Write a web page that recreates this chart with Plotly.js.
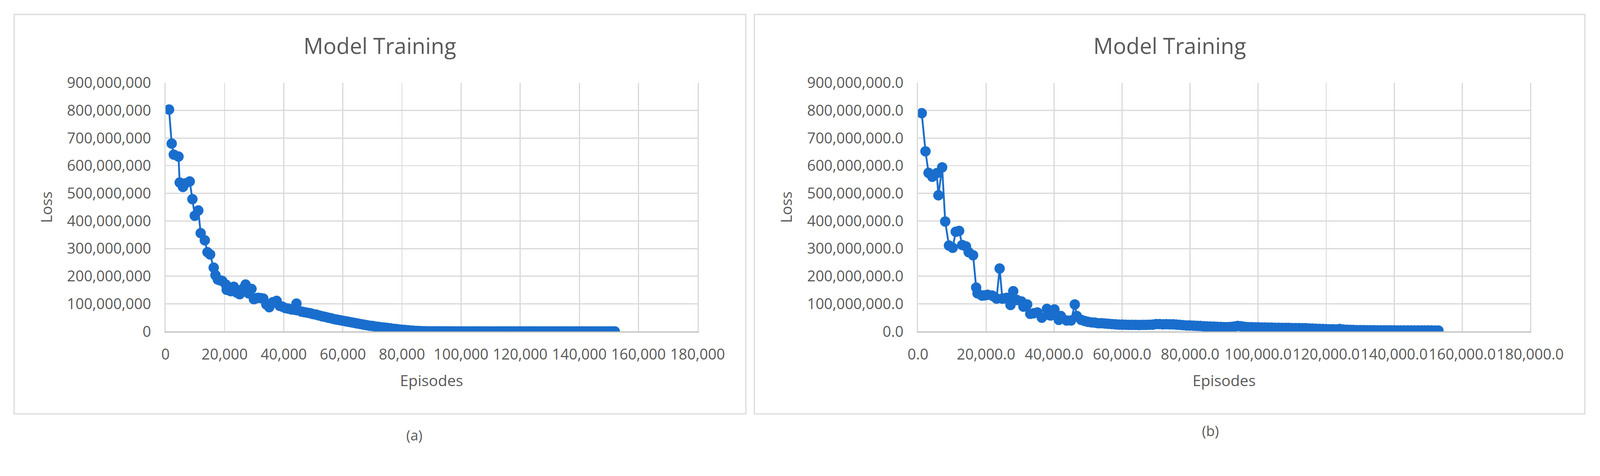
<!DOCTYPE html>
<html>
<head>
<meta charset="utf-8">
<script src="https://cdn.plot.ly/plotly-3.0.1.min.js"></script>
<style>html,body{margin:0;padding:0;background:#fff;overflow:hidden;}#chart{position:absolute;left:0;top:0;}</style>
</head>
<body>
<div id="chart"></div>
<script>
// Panel (a): episodes (thousands) and loss (millions)
const episodesA_k = [1.2,2.1,2.8,4.4,4.8,5.9,6.7,8.2,9.1,9.9,11.1,11.9,13.3,14.2,15.1,16.3,16.9,17.7,18.5,19.2,20.4,20.7,21.5,22.1,23.1,24.1,25.1,26.4,27.1,28.1,29.1,29.9,30.6,31.3,32.2,33.1,34.1,35.1,36.3,37.6,38.6,39.5,40.5,41.5,42.5,43.4,44.3,44.5,
46,47,48,49,50,51,52,53,54,55,56,57,58,59,60,61,62,63,64,65,66,67,68,69,70,71,72,73,74,75,76,77,78,79,80,81,82,83,84,85,86,87,88,89,90,
91,92,93,94,95,96,97,98,99,100,101,102,103,104,105,106,107,108,109,110,111,112,113,114,115,116,117,118,119,120,121,122,123,124,125,126,127,128,129,130,131,132,133,134,135,136,137,138,139,140,141,142,143,144,145,146,147,148,149,150,151,152];
const lossA_M = [803,680,640,633,539,523,536,543,479,419,438,356,330,287,279,231,204,188,185,183,170,151,150,146,162,141,135,157,170,138,154,117,120,122,121,119,98,88,106,111,93,90,85,83,80,79,101,77,
72,70,68,66,63,61,58,55,53,50,48,45,43,41,39,37,35,33,31,29,27,25,23,21,20,18,17,15,14,13,11.5,10,9,7.5,6.5,5.5,4.5,3.5,2.8,2.2,1.6,1.2,0.9,0.7,0.6,
0.6,0.5,0.5,0.5,0.5,0.5,0.4,0.4,0.4,0.4,0.4,0.4,0.4,0.4,0.3,0.3,0.3,0.3,0.3,0.3,0.3,0.3,0.3,0.3,0.3,0.3,0.3,0.3,0.3,0.3,0.2,0.2,0.2,0.2,0.2,0.2,0.2,0.2,0.2,0.2,0.2,0.2,0.2,0.2,0.2,0.2,0.2,0.2,0.2,0.2,0.2,0.2,0.2,0.2,0.2,0.2,0.2,0.2,0.2,0.2,0.2,0.2];

// Panel (b): episodes (thousands) and loss (millions)
const episodesB_k = [1.1,2.2,3.1,4.2,5.5,6.0,7.1,8.0,9.1,10.2,11.1,12.1,13.0,14.1,14.9,16.2,17.1,17.5,18.8,19.7,20.5,21.8,22.5,23.1,24.0,24.8,25.5,26.1,27.2,28.0,29.1,30.4,31.0,32.1,33.0,34.0,35.1,36.4,37.9,38.5,39.0,40.1,41.4,42.0,43.7,45.0,46.1,46.7,
48,49,50,51,52,53,54,55,56,57,58,59,60,61,62,63,64,65,66,67,68,69,70,71,72,73,74,75,76,77,78,79,80,81,82,83,84,85,86,87,88,89,90,
91,92,93,94,95,96,97,98,99,100,101,102,103,104,105,106,107,108,109,110,111,112,113,114,115,116,117,118,119,120,121,122,123,124,125,126,127,128,129,130,131,132,133,134,135,136,137,138,139,140,141,142,143,144,145,146,147,148,149,150,151,152,153];
const lossB_M = [790,652,574,560,573,493,594,398,311,303,361,364,313,308,287,276,159,138,130,131,133,130,125,119,228,119,120,122,96,146,114,109,90,98,64,66,69,50,82,60,58,80,42,56,40,40,98,56,
42,38,35,33,32,30,30,29,28,27,26,25,25,24.5,24,24,24,23.5,24,24,24.5,25,27,27,26,26.5,26,26,25,24,23,22,22,21,20.5,20,19,18.5,18,17.5,17,16.5,16,
16,16.5,18,20,19,17,16,15.5,15,15,14.5,14.5,14,14,13.5,13.5,13,13,13,12.5,12.5,12.5,12,12,11,10.5,10,9.5,9,8.5,8,8,7.5,9,7,6.5,6,5.5,5,5,4.8,4.6,4.5,4.4,4.3,4.3,4.2,4.2,4.1,4.1,4.0,4.0,4.0,3.9,3.9,3.8,3.8,3.8,3.7,3.7,3.7,3.6,3.6];

const titleText = "Model Training";
const xTitle = "Episodes";
const yTitle = "Loss";
const panelLabels = ["(a)", "(b)"];

// reference frame is 4312 x 1218; fit it to the actual viewport width
const REF_W = 4312, REF_H = 1218;
const W = (document.documentElement.clientWidth || window.innerWidth || REF_W);
const k = W / REF_W;
const H = Math.round(REF_H * k);
const px = v => v / REF_W;
const py = v => 1 - v / REF_H;
const s = v => v * k;

const blue = "#196ECD";
const grey = "#595959";
const FONT = "Open Sans, Noto Sans, sans-serif";

function trace(xk, yM, xa, ya) {
  return {
    type: "scatter", mode: "lines+markers",
    x: xk.map(v => v * 1000), y: yM.map(v => v * 1e6),
    xaxis: xa, yaxis: ya,
    line: {color: blue, width: s(5)},
    marker: {color: blue, size: s(28)},
    showlegend: false, hoverinfo: "x+y"
  };
}

function xax(domain, fmt, anchor) {
  return {
    domain: domain, anchor: anchor, range: [0, 180000], tick0: 0, dtick: 20000,
    tickformat: fmt, tickangle: 0,
    ticks: "outside", ticklen: s(24), tickcolor: "rgba(0,0,0,0)", tickwidth: 1,
    showgrid: true, gridcolor: "#d9d9d9", gridwidth: s(3),
    showline: true, linecolor: "#bfbfbf", linewidth: s(3), mirror: false,
    zeroline: false, fixedrange: true,
    tickfont: {family: FONT, size: s(40), color: grey},
    title: {text: xTitle, font: {family: FONT, size: s(41), color: grey}, standoff: s(33)}
  };
}
function yax(domain, fmt, anchor) {
  return {
    domain: domain, anchor: anchor, range: [0, 900000000], tick0: 0, dtick: 100000000,
    tickformat: fmt,
    ticks: "outside", ticklen: s(28), tickcolor: "rgba(0,0,0,0)", tickwidth: 1,
    showgrid: true, gridcolor: "#d9d9d9", gridwidth: s(3),
    showline: true, linecolor: "#d9d9d9", linewidth: s(3), mirror: true,
    zeroline: false, fixedrange: true,
    tickfont: {family: FONT, size: s(40), color: grey},
    title: {text: yTitle, font: {family: FONT, size: s(41), color: grey}, standoff: s(28)}
  };
}

const yDom = [py(893), py(223)];

const layout = {
  width: W, height: H,
  margin: {l: 0, r: 0, t: 0, b: 0, pad: 0},
  paper_bgcolor: "#ffffff", plot_bgcolor: "#ffffff",
  xaxis: xax([px(446), px(1880)], ",d", "y"),
  yaxis: yax(yDom, ",d", "x"),
  xaxis2: xax([px(2474), px(4124)], ",.1f", "y2"),
  yaxis2: yax(yDom, ",.1f", "x2"),
  shapes: [
    {type: "rect", xref: "paper", yref: "paper", x0: px(38), x1: px(2010), y0: py(1115), y1: py(39),
     line: {color: "#d9d9d9", width: s(3)}, fillcolor: "rgba(0,0,0,0)", layer: "below"},
    {type: "rect", xref: "paper", yref: "paper", x0: px(2033), x1: px(4271), y0: py(1115), y1: py(39),
     line: {color: "#d9d9d9", width: s(3)}, fillcolor: "rgba(0,0,0,0)", layer: "below"}
  ],
  annotations: [
    {text: titleText, xref: "paper", yref: "paper", x: px(1024), y: py(122), xanchor: "center", yanchor: "middle",
     showarrow: false, font: {family: FONT, size: s(59), color: grey}},
    {text: titleText, xref: "paper", yref: "paper", x: px(3152), y: py(122), xanchor: "center", yanchor: "middle",
     showarrow: false, font: {family: FONT, size: s(59), color: grey}},
    {text: panelLabels[0], xref: "paper", yref: "paper", x: px(1116), y: py(1172), xanchor: "center", yanchor: "middle",
     showarrow: false, font: {family: FONT, size: s(38), color: grey}},
    {text: panelLabels[1], xref: "paper", yref: "paper", x: px(3262), y: py(1160), xanchor: "center", yanchor: "middle",
     showarrow: false, font: {family: FONT, size: s(38), color: grey}}
  ]
};

Plotly.newPlot("chart", [
  trace(episodesA_k, lossA_M, "x", "y"),
  trace(episodesB_k, lossB_M, "x2", "y2")
], layout, {staticPlot: true, displayModeBar: false});
</script>
</body>
</html>
